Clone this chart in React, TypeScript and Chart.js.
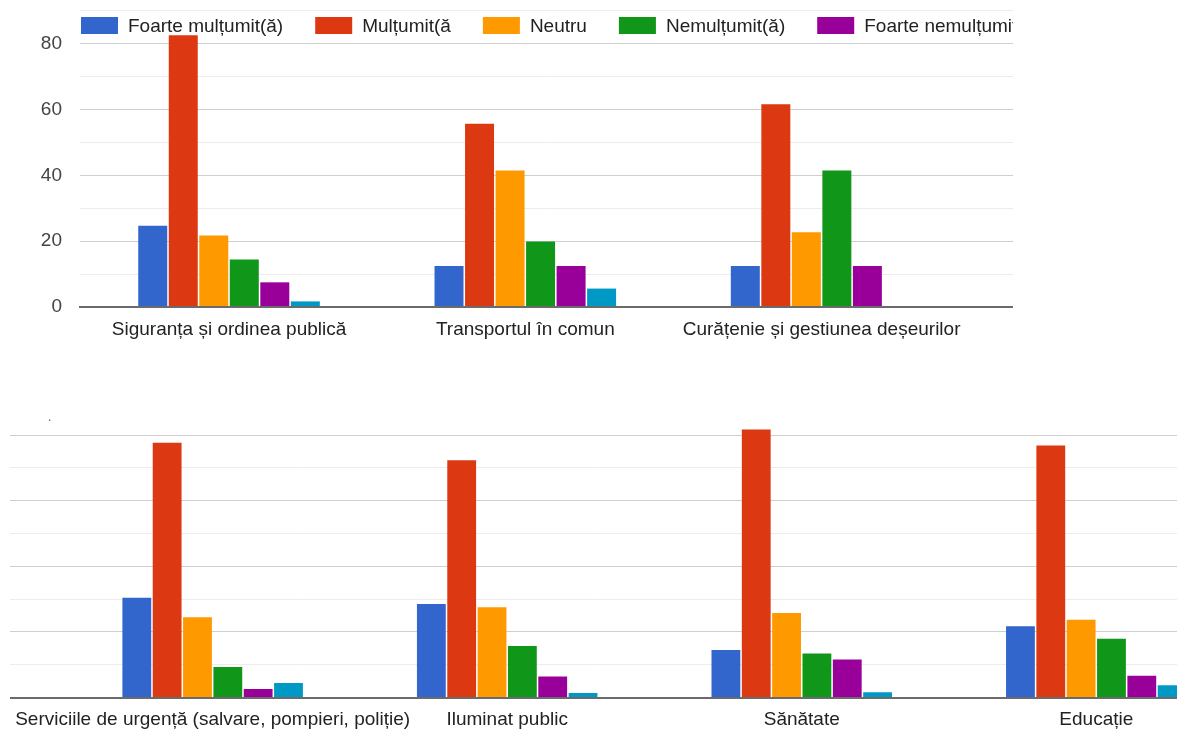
import React, { useEffect, useRef } from 'react';
import { Chart, registerables } from 'chart.js';

Chart.register(...registerables);

// ---------- data ----------
const CATEGORIES = [
  'Siguranța și ordinea publică',
  'Transportul în comun',
  'Curățenie și gestiunea deșeurilor',
  'Serviciile de urgență (salvare, pompieri, poliție)',
  'Iluminat public',
  'Sănătate',
  'Educație',
];

const SERIES = [
  'Foarte mulțumit(ă)',
  'Mulțumit(ă',
  'Neutru',
  'Nemulțumit(ă)',
  'Foarte nemulțumit(ă)',
  'Nu știu / Nu răspund',
];

const foarteMultumit = [24.7, 12.5, 12.5, 30.4, 28.5, 14.5, 21.7];
const multumit = [82.6, 55.7, 61.6, 77.7, 72.3, 81.7, 76.8];
const neutru = [21.7, 41.5, 22.7, 24.5, 27.5, 25.8, 23.7];
const nemultumit = [14.4, 19.9, 41.5, 9.3, 15.7, 13.4, 17.9];
const foarteNemultumit = [7.5, 12.5, 12.5, 2.6, 6.4, 11.6, 6.6];
const nuStiu = [1.7, 5.6, 0, 4.4, 1.4, 1.6, 3.7];

const SERIES_VALUES = [foarteMultumit, multumit, neutru, nemultumit, foarteNemultumit, nuStiu];
const COLORS = ['#3366cc', '#dc3912', '#ff9900', '#109618', '#990099', '#0099c6'];

const Y_TICK_STEP = 10;
const Y_LABEL_STEP = 20;

// ---------- views (two scrolled viewports of the same chart) ----------
const FONT = '"Liberation Sans", Arial, sans-serif';

type View = {
  width: number;
  height: number;
  xMin: number;
  xMax: number;
  yMax: number;
  plotBottom: number;
  pxPerUnit: number;
  yAxisWidth: number;
  showYLabels: boolean;
  legend: boolean;
};

const TOP_VIEW: View = {
  width: 1013,
  height: 345,
  xMin: -0.503,
  xMax: 2.646,
  yMax: 90,
  plotBottom: 307,
  pxPerUnit: 3.29,
  yAxisWidth: 80,
  showYLabels: true,
  legend: true,
};

const BOTTOM_VIEW: View = {
  width: 1167,
  height: 331,
  xMin: 2.312,
  xMax: 6.274,
  yMax: 88,
  plotBottom: 297.5,
  pxPerUnit: 3.28,
  yAxisWidth: 0,
  showYLabels: false,
  legend: false,
};

const legendPlugin = {
  id: 'gLegend',
  afterDraw(chart: any) {
    const { ctx, chartArea } = chart;
    ctx.save();
    ctx.font = `19px ${FONT}`;
    ctx.textBaseline = 'alphabetic';
    ctx.textAlign = 'left';
    let x = chartArea.left + 1;
    chart.data.datasets.forEach((ds: any) => {
      ctx.fillStyle = ds.backgroundColor;
      ctx.fillRect(x, 17, 37, 17);
      ctx.fillStyle = '#222222';
      ctx.fillText(ds.label, x + 47, 32);
      x += 47 + ctx.measureText(ds.label).width + 32;
    });
    ctx.restore();
  },
};

function makeConfig(view: View): any {
  const padTop = view.plotBottom - view.yMax * view.pxPerUnit;
  const xHeight = view.height - view.plotBottom;
  return {
    type: 'bar',
    data: {
      datasets: SERIES.map((name, s) => ({
        label: name,
        data: SERIES_VALUES[s].map((v, i) => ({ x: i, y: v })),
        backgroundColor: COLORS[s],
        borderWidth: 0,
        categoryPercentage: 0.618,
        barPercentage: 0.95,
        clip: 0,
      })),
    },
    plugins: view.legend ? [legendPlugin] : [],
    options: {
      responsive: false,
      animation: false,
      layout: { padding: { top: padTop, left: 0, right: 0, bottom: 0 } },
      plugins: {
        legend: { display: false },
        tooltip: { enabled: false },
        title: { display: false },
      },
      scales: {
        x: {
          type: 'linear',
          offset: false,
          min: view.xMin,
          max: view.xMax,
          grid: { display: false, drawTicks: false, offset: false },
          border: { display: true, color: '#6b6b6b', width: 2, z: 1 },
          ticks: {
            autoSkip: false,
            maxRotation: 0,
            minRotation: 0,
            padding: 11,
            color: '#222222',
            font: { family: FONT, size: 19 },
            callback: (v: number) => CATEGORIES[v] ?? '',
          },
          afterBuildTicks: (s: any) => {
            s.ticks = CATEGORIES.map((_, i) => ({ value: i })).filter(
              (t) => t.value >= s.min && t.value <= s.max
            );
          },
          afterFit: (s: any) => {
            s.height = xHeight;
            s.paddingLeft = 0;
            s.paddingRight = 0;
          },
        },
        y: {
          type: 'linear',
          min: 0,
          max: view.yMax,
          grid: {
            drawTicks: false,
            lineWidth: 1,
            color: (c: any) => {
              const v = c.tick ? c.tick.value : 0;
              if (v === 0) return 'rgba(0,0,0,0)';
              return v % Y_LABEL_STEP === 0 ? '#cfcfcf' : '#ececec';
            },
          },
          border: { display: false },
          ticks: {
            display: view.showYLabels,
            stepSize: Y_TICK_STEP,
            padding: 18,
            color: '#444444',
            font: { family: FONT, size: 19 },
            callback: (v: number) => (v % Y_LABEL_STEP === 0 ? String(v) : ''),
          },
          afterBuildTicks: (s: any) => {
            s.ticks = s.ticks.filter((t: any) => t.value % Y_TICK_STEP === 0);
          },
          afterFit: (s: any) => {
            s.width = view.yAxisWidth;
            s.paddingTop = 0;
            s.paddingBottom = 0;
          },
        },
      },
    },
  };
}

export default function App() {
  const topRef = useRef<HTMLCanvasElement>(null);
  const botRef = useRef<HTMLCanvasElement>(null);

  useEffect(() => {
    const c1 = new Chart(topRef.current as HTMLCanvasElement, makeConfig(TOP_VIEW));
    const c2 = new Chart(botRef.current as HTMLCanvasElement, makeConfig(BOTTOM_VIEW));
    return () => {
      c1.destroy();
      c2.destroy();
    };
  }, []);

  return (
    <div
      style={{
        position: 'fixed',
        left: 0,
        top: 0,
        width: 1177,
        height: 731,
        background: '#ffffff',
        overflow: 'hidden',
      }}
    >
      <canvas
        ref={topRef}
        width={TOP_VIEW.width}
        height={TOP_VIEW.height}
        style={{ position: 'absolute', left: 0, top: 0 }}
      />
      <canvas
        ref={botRef}
        width={BOTTOM_VIEW.width}
        height={BOTTOM_VIEW.height}
        style={{ position: 'absolute', left: 10, top: 400 }}
      />
      <span
        style={{
          position: 'absolute',
          left: 48,
          top: 410,
          font: `12px ${FONT}`,
          lineHeight: '14px',
          color: '#555555',
        }}
      >
        .
      </span>
    </div>
  );
}
